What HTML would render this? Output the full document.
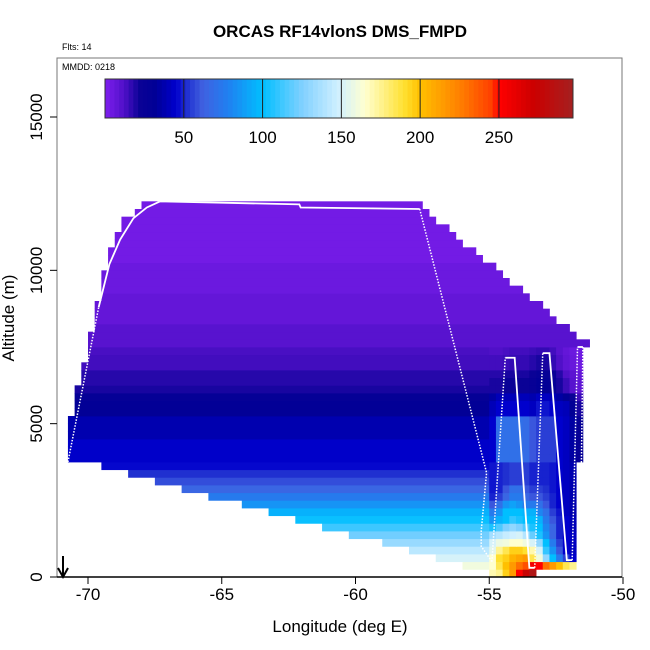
<!DOCTYPE html>
<html><head><meta charset="utf-8"><style>
html,body{margin:0;padding:0;background:#fff;}
svg{display:block;font-family:"Liberation Sans",Arial,sans-serif;}
</style></head><body>
<svg id="chart" width="650" height="650" viewBox="0 0 650 650" xmlns="http://www.w3.org/2000/svg">
<rect x="0" y="0" width="650" height="650" fill="#fff"/>
<text x="340" y="37" text-anchor="middle" font-size="17" font-weight="bold">ORCAS RF14vlonS DMS_FMPD</text>
<text x="62" y="50" font-size="9">Flts: 14</text>
<rect x="57" y="58" width="565" height="519" fill="none" stroke="#777" stroke-width="1"/>
<text x="62" y="70" font-size="9">MMDD: 0218</text>
<g id="cells"></g>
<g id="track"></g>
<g id="cbar"></g>
<g id="axes"></g>
<text x="340" y="632" text-anchor="middle" font-size="17">Longitude (deg E)</text>
<text transform="translate(14,318) rotate(-90)" text-anchor="middle" font-size="17">Altitude (m)</text>
<line x1="63" y1="556" x2="63" y2="576" stroke="#000" stroke-width="2"/>
<path d="M58,568 L63,577 L68,568" fill="none" stroke="#000" stroke-width="2"/>
</svg>
<script>
// ---- data ----
const altBin = 250, lonBin = 0.25, rightLon0 = -55;
const rowLeft = [-55,-56,-57,-58,-59,-60.25,-61.25,-62.25,-63.25,-64.25,-65.5,-66.5,-67.5,-68.5,-69.5,
 -70.75,-70.75,-70.75,-70.75,-70.75,-70.75,-70.5,-70.5,-70.5,-70.5,-70.25,-70.25,-70.25,-70,-70,
 -70,-70,-69.75,-69.75,-69.75,-69.75,-69.5,-69.5,-69.5,-69.5,-69.25,-69.25,-69.25,-69,-69,-68.75,-68.75,-68.25,-68];
const rowRightUpper = [-51.25,-51.75,-52,-52.5,-52.75,-53,-53.5,-53.75,-54.25,-54.5,-54.75,-55.25,-55.5,-56,-56.25,-56.5,-57,-57.25,-57.5];
const mainValues = [0,160,150,142,132,122,112,102,95,85,75,65,58,52,46,
 44,44,44,38,38,38,30,30,27,20,18,18,14,14,13,
 10,10,10,7,7,7,7,5,5,5,5,3,3,3,3,3,3,3,3];
const rightValues = [
 [170,175,195,215,250,275,290],
 [165,185,200,215,230,240,255,250,230,215,200,185,175],
 [165,190,195,205,210,215,185,160,130,100,75,55,45],
 [155,175,185,195,195,190,170,150,110,85,60,45,42],
 [150,158,160,165,165,160,150,130,100,75,55,45,42],
 [135,140,145,148,150,140,120,105,85,65,50,45,42],
 [105,115,125,130,125,115,105,100,80,65,50,45,40],
 [85,95,100,110,105,100,100,95,75,60,50,45,40],
 [75,85,100,100,100,95,95,80,70,55,48,42,38],
 [60,70,85,90,85,75,75,70,60,50,45,42,38],
 [50,55,65,75,75,65,60,60,55,50,45,42,38],
 [48,50,60,70,70,60,55,55,52,48,45,42,38],
 [48,50,52,55,55,55,50,50,50,48,45,42,38],
 [48,50,52,55,55,55,50,50,50,48,45,42,38],
 [48,50,52,55,55,55,50,50,50,48,45,42,38],
 [45,70,70,70,70,68,60,55,55,55,45,42,35,25],
 [45,70,70,70,70,68,60,55,55,55,45,42,35,25],
 [45,70,70,70,70,68,60,55,55,55,45,42,35,25],
 [45,70,70,70,70,68,60,55,55,55,45,42,35,25],
 [45,70,70,70,70,68,60,55,55,55,45,42,35,25],
 [45,70,70,70,70,68,60,55,55,55,45,42,35,25],
 [40,45,45,45,45,45,42,48,48,45,42,40,30,20],
 [40,45,45,45,45,45,42,48,48,45,42,40,30,20],
 [35,40,40,40,40,40,38,42,42,40,35,30,22,15],
 [20,20,22,22,22,22,25,30,30,25,20,15,10,8],
 [20,20,22,22,22,22,25,30,30,25,20,15,10,8],
 [18,18,20,20,20,20,22,26,26,22,18,12,9,7],
 [14,14,15,16,16,16,18,20,20,16,12,8,6,4],
 [14,14,15,16,16,16,18,20,20,16,12,8,6,4],
 [12,12,13,14,14,14,15,16,16,14,10,7,5,4]];
const trackSolid = [
 [[-69.6,8800],[-69.2,10200],[-68.8,11000],[-68.3,11700],[-67.8,12050],[-67.3,12250],[-62.1,12150],[-62.05,12050],[-57.6,12000]],
 [[-54.4,7150],[-54.05,7150],[-53.5,300],[-53.3,300]],
 [[-53.0,7300],[-52.75,7300],[-52.1,550],[-51.9,550]],
 [[-51.7,7500],[-51.5,7500]]];
const trackDotted = [
 [[-70.75,3750],[-69.6,8800]],
 [[-57.6,12000],[-55.1,3400],[-55.3,1500],[-55.3,1000],[-54.9,500]],
 [[-54.9,500],[-54.4,7150]],
 [[-53.3,300],[-53.0,7300]],
 [[-51.9,550],[-51.7,7500]],
 [[-51.5,7500],[-51.6,600]]];
const xTicks = [-70,-65,-60,-55,-50];
const yTicks = [0,5000,10000,15000];
const cbTicks = [50,100,150,200,250];
const cbMax = 297;
// ---- scales ----
const X = lon => 88 + (lon + 70) * 26.75;
const Y = alt => 577 - alt * 0.030667;
const stops = [[0,[127,31,239]],[12,[80,16,200]],[22,[10,2,150]],[32,[0,0,150]],[45,[0,0,205]],[52,[32,48,208]],[62,[64,96,224]],[78,[32,128,240]],[100,[0,191,255]],[125,[128,208,255]],[148,[208,240,255]],[165,[255,255,208]],[190,[255,224,48]],[200,[255,192,0]],[225,[255,128,0]],[245,[255,64,0]],[250,[255,0,0]],[272,[204,0,0]],[297,[165,32,32]]];
function color(v){
  if(v<=stops[0][0]) return 'rgb('+stops[0][1]+')';
  for(let i=1;i<stops.length;i++){ if(v<=stops[i][0]){ const a=stops[i-1],b=stops[i],t=(v-a[0])/(b[0]-a[0]);
    return 'rgb('+a[1].map((c,j)=>Math.round(c+(b[1][j]-c)*t)).join(',')+')'; } }
  return 'rgb('+stops[stops.length-1][1]+')';
}
const NS='http://www.w3.org/2000/svg';
function mk(tag,attrs,parent){const e=document.createElementNS(NS,tag);for(const k in attrs)e.setAttribute(k,attrs[k]);parent.appendChild(e);return e;}
// ---- heatmap ----
const cells=document.getElementById('cells');
function cell(l0,l1,k,v){
  const r=mk('rect',{x:X(l0),y:Y((k+1)*altBin),width:X(l1)-X(l0)+0.4,height:Y(k*altBin)-Y((k+1)*altBin)+0.4,fill:color(v)},cells);
  
  
}
for(let k=0;k<rowLeft.length;k++){
  if(k>=30){ cell(rowLeft[k],rowRightUpper[k-30],k,mainValues[k]); continue; }
  if(rowLeft[k]<rightLon0) cell(rowLeft[k],rightLon0,k,mainValues[k]);
  const rv=rightValues[k];
  for(let i=0;i<rv.length;i++) cell(rightLon0+i*lonBin,rightLon0+(i+1)*lonBin,k,rv[i]);
}
// ---- track ----
const track=document.getElementById('track');
trackSolid.forEach(seg=>{const p=mk('polyline',{points:seg.map(q=>X(q[0])+','+Y(q[1])).join(' '),fill:'none',stroke:'#fff','stroke-width':1.8},track);
 
 });
trackDotted.forEach(seg=>{const p=mk('polyline',{points:seg.map(q=>X(q[0])+','+Y(q[1])).join(' '),fill:'none',stroke:'#fff','stroke-width':1.5,'stroke-dasharray':'1.5,1.5'},track);
 
 });
// ---- colorbar ----
const cb=document.getElementById('cbar');
const CX=v=>105+v*(573-105)/cbMax;
for(let v=0;v<cbMax;v+=3){const r=mk('rect',{x:CX(v),y:79,width:CX(3)-CX(0)+0.5,height:39,fill:color(v+1.5)},cb);
 
 }
mk('rect',{x:105,y:79,width:468,height:39,fill:'none',stroke:'#333','stroke-width':1},cb);
cbTicks.forEach(t=>{const l=mk('line',{x1:CX(t),y1:79,x2:CX(t),y2:118,stroke:'#222','stroke-width':1},cb);
 
 
 const tx=mk('text',{x:CX(t),y:143,'text-anchor':'middle','font-size':17},cb);tx.textContent=t;
 
 });
// ---- axes ----
const ax=document.getElementById('axes');
mk('line',{x1:57,y1:577,x2:622,y2:577,stroke:'#000','stroke-width':1.5},ax);
xTicks.forEach(t=>{const l=mk('line',{x1:X(t),y1:577,x2:X(t),y2:584,stroke:'#000'},ax);
 
 
 const tx=mk('text',{x:X(t),y:600,'text-anchor':'middle','font-size':17},ax);tx.textContent=t;
 
 });
yTicks.forEach(t=>{const l=mk('line',{x1:50,y1:Y(t),x2:57,y2:Y(t),stroke:'#000'},ax);
 
 
 const tx=mk('text',{transform:'translate(42,'+Y(t)+') rotate(-90)','text-anchor':'middle','font-size':17},ax);tx.textContent=t;
 
 });
</script>
</body></html>
